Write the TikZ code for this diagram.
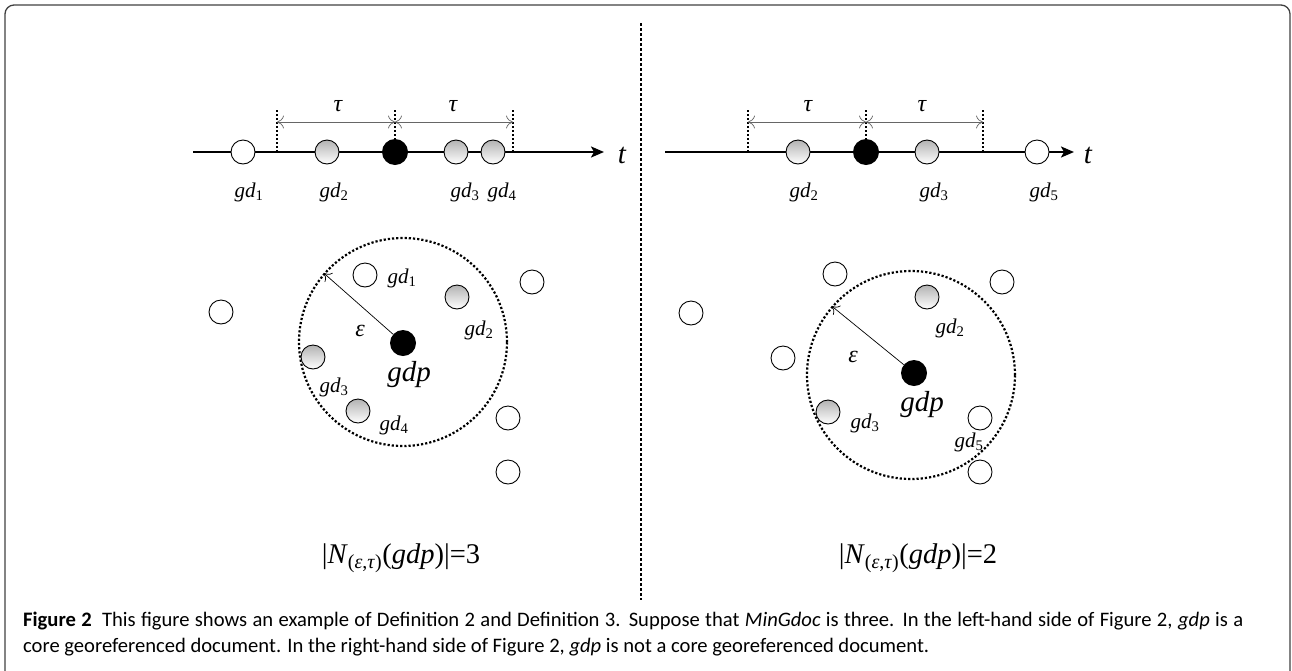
\documentclass[tikz,border=0pt]{standalone}
\usepackage{fontspec}
\setmainfont{Liberation Serif}
\newfontfamily\capfont{Carlito}
\usetikzlibrary{arrows.meta}
\tikzset{
  wdot/.style={circle, draw=black, line width=0.9pt, fill=white, minimum size=24pt, inner sep=0pt},
  gdot/.style={wdot, top color=black!30, bottom color=white},
  bdot/.style={circle, fill=black, minimum size=26pt, inner sep=0pt},
  axisline/.style={line width=2.2pt, -{Stealth[length=13pt,width=11pt,inset=3pt]}},
  tickline/.style={line width=2.4pt, dash pattern=on 2pt off 2pt},
  sepline/.style={line width=2.6pt, dash pattern=on 2.6pt off 2.4pt},
  taular/.style={draw=black!60, line width=0.7pt, {To[length=7pt,width=13pt]}-{To[length=7pt,width=13pt]}},
  epsarrow/.style={line width=0.7pt, -{To[length=7pt,width=12pt]}},
  rangecirc/.style={circle, draw, line width=2.2pt, dash pattern=on 2.2pt off 2pt, minimum size=208pt, inner sep=0pt},
  lbl/.style={font=\fontsize{21}{24}\selectfont\itshape, inner sep=0pt},
  biglbl/.style={font=\fontsize{29}{32}\selectfont\itshape, inner sep=0pt},
  greek/.style={font=\fontsize{24}{28}\selectfont\itshape, inner sep=0pt},
  cardtext/.style={font=\fontsize{28.5}{32}\selectfont, inner sep=0pt, anchor=base},
  captext/.style={font=\capfont\fontsize{20.6}{24}\selectfont, inner sep=0pt, anchor=base west}
}
\newcommand{\gdl}[1]{gd\textsubscript{\upshape#1}}
\begin{document}
\begin{tikzpicture}[x=1pt,y=-1pt]
\useasboundingbox (0,0) rectangle (1292,670);
% frame
\draw[rounded corners=9pt, line width=1.3pt, black!75] (5,690) -- (5,5) -- (1290,5) -- (1290,690);
% separator
\coordinate (sepT) at (641,23);
\coordinate (sepB) at (641,600);
\draw[sepline] (sepT) -- (sepB);

% ===== LEFT time axis =====
\coordinate (axLs) at (193,152);
\coordinate (axLe) at (604,152);
\draw[axisline] (axLs) -- (axLe);
\node[wdot] (tL1) at (243,152) {};
\node[gdot] (tL2) at (327,152) {};
\node[bdot] (tLp) at (395,152) {};
\node[gdot] (tL3) at (456,152) {};
\node[gdot] (tL4) at (493,152) {};
\coordinate (tkLaT) at (277,110); \coordinate (tkLaB) at (277,152);
\coordinate (tkLbT) at (395,110);
\coordinate (tkLcT) at (513,110); \coordinate (tkLcB) at (513,152);
\draw[tickline] (tkLaT) -- (tkLaB);
\draw[tickline] (tkLbT) -- (tLp.north);
\draw[tickline] (tkLcT) -- (tkLcB);
\coordinate (arLa) at (277,122); \coordinate (arLb) at (395,122); \coordinate (arLc) at (513,122);
\draw[taular] (arLa) -- (arLb);
\draw[taular] (arLb) -- (arLc);
\node[greek] (tauL1) at (338,106) {τ};
\node[greek] (tauL2) at (453,106) {τ};
\node[lbl] (tlL1) at (249,192) {\gdl{1}};
\node[lbl] (tlL2) at (334,192) {\gdl{2}};
\node[lbl] (tlL3) at (465,192) {\gdl{3}};
\node[lbl] (tlL4) at (502,192) {\gdl{4}};
\node[biglbl] (tL) at (622,155) {t};

% ===== RIGHT time axis =====
\coordinate (axRs) at (665,152);
\coordinate (axRe) at (1074,152);
\draw[axisline] (axRs) -- (axRe);
\node[gdot] (tR2) at (798,152) {};
\node[bdot] (tRp) at (866,152) {};
\node[gdot] (tR3) at (927,152) {};
\node[wdot] (tR5) at (1037,152) {};
\coordinate (tkRaT) at (748,110); \coordinate (tkRaB) at (748,152);
\coordinate (tkRbT) at (866,110);
\coordinate (tkRcT) at (983,110); \coordinate (tkRcB) at (983,152);
\draw[tickline] (tkRaT) -- (tkRaB);
\draw[tickline] (tkRbT) -- (tRp.north);
\draw[tickline] (tkRcT) -- (tkRcB);
\coordinate (arRa) at (748,122); \coordinate (arRb) at (866,122); \coordinate (arRc) at (983,122);
\draw[taular] (arRa) -- (arRb);
\draw[taular] (arRb) -- (arRc);
\node[greek] (tauR1) at (808,106) {τ};
\node[greek] (tauR2) at (922,106) {τ};
\node[lbl] (tlR2) at (804,192) {\gdl{2}};
\node[lbl] (tlR3) at (934,192) {\gdl{3}};
\node[lbl] (tlR5) at (1044,192) {\gdl{5}};
\node[biglbl] (tR) at (1088,155) {t};

% ===== LEFT space =====
\node[rangecirc] (cL) at (403,342) {};
\node[bdot] (pL) at (403,343) {};
\draw[epsarrow] (pL) -- (cL.139);
\node[greek] (epsL) at (360,331) {ε};
\node[biglbl] (gdpL) at (409,375) {gdp};
\node[wdot] (sL1) at (365,275) {};
\node[gdot] (sL2) at (457,297) {};
\node[gdot] (sL3) at (313,357) {};
\node[gdot] (sL4) at (358,411) {};
\node[wdot] (oL1) at (221,312) {};
\node[wdot] (oL2) at (532,282) {};
\node[wdot] (oL3) at (508,418) {};
\node[wdot] (oL4) at (508,472) {};
\node[lbl] (slL1) at (402,278) {\gdl{1}};
\node[lbl] (slL2) at (479,330) {\gdl{2}};
\node[lbl] (slL3) at (334,387) {\gdl{3}};
\node[lbl] (slL4) at (394,425) {\gdl{4}};

% ===== RIGHT space =====
\node[rangecirc] (cR) at (911,375) {};
\node[bdot] (pR) at (914,373) {};
\draw[epsarrow] (pR) -- (cR.139);
\node[greek] (epsR) at (853,357) {ε};
\node[biglbl] (gdpR) at (922,405) {gdp};
\node[gdot] (sR2) at (927,297) {};
\node[gdot] (sR3) at (828,412) {};
\node[wdot] (sR5) at (980,418) {};
\node[wdot] (oR1) at (835,274) {};
\node[wdot] (oR2) at (1002,282) {};
\node[wdot] (oR3) at (691,313) {};
\node[wdot] (oR4) at (783,358) {};
\node[wdot] (oR5) at (980,472) {};
\node[lbl] (slR2) at (950,328) {\gdl{2}};
\node[lbl] (slR3) at (865,423) {\gdl{3}};
\node[lbl] (slR5) at (969,442) {\gdl{5}};

% cardinalities
\node[cardtext] (nL) at (401,563) {|\textit{N}\textsubscript{(\textit{ε},\textit{τ})}(\textit{gdp})|=3};
\node[cardtext] (nR) at (918,563) {|\textit{N}\textsubscript{(\textit{ε},\textit{τ})}(\textit{gdp})|=2};

% caption
\node[captext] (cap1) at (23,626) {\hbox to 1220pt{\textbf{Figure 2}\enspace This figure shows an example of Definition 2 and Definition 3. Suppose that \textit{MinGdoc} is three. In the left-hand side of Figure 2, \textit{gdp} is a}};
\node[captext] (cap2) at (23,652) {core georeferenced document. In the right-hand side of Figure 2, \textit{gdp} is not a core georeferenced document.};
\end{tikzpicture}
\end{document}
